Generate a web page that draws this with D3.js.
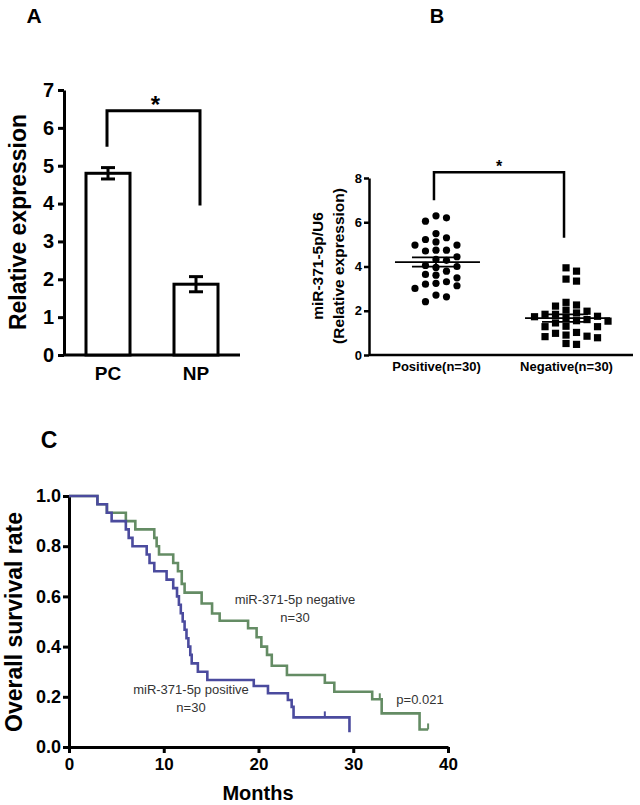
<!DOCTYPE html>
<html>
<head>
<meta charset="UTF-8">
<script src="https://d3js.org/d3.v7.min.js"></script>
<style>
  body { margin: 0; background: #fff; }
  text { font-family: "Liberation Sans", Arial, sans-serif; }
</style>
</head>
<body>
<svg id="fig" width="640" height="805"></svg>
<script>
// ---- panel A data ----
const aGroups = ["PC", "NP"];
const aMeans = [4.8, 1.87];
const aErr = [0.15, 0.2];
const aTicks = [0, 1, 2, 3, 4, 5, 6, 7];

// ---- panel B data ----
const bGroups = ["Positive(n=30)", "Negative(n=30)"];
const bPositive = [6.29, 6.2, 6.05, 5.49, 5.3, 5.22, 5.11, 4.97, 4.97, 4.74, 4.7, 4.74, 4.44, 4.32, 4.28,
                   4.0, 4.05, 3.96, 3.79, 3.64, 3.61, 3.49, 3.24, 3.13, 3.01, 3.2, 3.31, 2.71, 2.63, 2.41];
const bNegative = [3.94, 3.79, 3.43, 3.34, 2.38, 2.26, 2.21, 2.03, 1.98, 1.9, 1.84, 1.84, 1.75, 1.73, 1.68,
                   1.6, 1.55, 1.53, 1.45, 1.3, 1.28, 1.28, 1.02, 0.98, 0.9, 0.85, 0.83, 0.78, 0.52, 0.48];
const bMeans = [4.2, 1.67];
const bSem = [0.21, 0.17];
const bTicks = [0, 2, 4, 6, 8];

// ---- panel C data (Kaplan-Meier steps) ----
const posTimes = [0, 3, 4, 4.5, 6, 6.3, 6.7, 8.2, 8.5, 9, 10.3, 11, 11.4, 11.6, 11.8, 12.0, 12.2, 12.4, 12.6, 12.8, 12.95, 13.6, 14.6, 19.5, 21, 23.1, 23.5, 23.7, 29.6];
const posSurv  = [1, .967, .933, .9, .867, .833, .8, .767, .733, .7, .667, .633, .6, .567, .533, .5, .467, .433, .4, .367, .333, .3, .267, .243, .214, .187, .16, .118, .059];
const posCensor = [27.0];
const negTimes = [0, 3, 4, 6, 7, 9, 9.25, 9.5, 11, 11.5, 11.9, 12.2, 14, 15.1, 15.9, 18.9, 19.8, 20.3, 20.9, 21.4, 23, 27, 28, 32, 33, 37, 37.9];
const negSurv  = [1, .967, .933, .9, .867, .833, .8, .767, .733, .7, .65, .615, .572, .532, .503, .473, .437, .4, .367, .324, .287, .256, .22, .19, .134, .07, .07];
const negCensor = [32.8, 37.9];
const cXTicks = [0, 10, 20, 30, 40];
const cYTicks = [0, 0.2, 0.4, 0.6, 0.8, 1.0];

const svg = d3.select("#fig");
const blue = "#4b4b9e", green = "#648c64";

function letter(t, x, y, size) {
  svg.append("text").attr("x", x).attr("y", y).attr("text-anchor", "middle")
    .attr("font-size", size).attr("font-weight", "bold").text(t);
}
function styleAxis(g, w, fs) {
  g.select(".domain").attr("stroke", "#000").attr("stroke-width", w);
  g.selectAll(".tick line").attr("stroke", "#000").attr("stroke-width", w);
  g.selectAll(".tick text").attr("font-size", fs).attr("font-weight", "bold").attr("fill", "#000")
    .attr("font-family", "Liberation Sans, Arial, sans-serif");
}

// ================= PANEL A =================
letter("A", 34, 23, 21);
const aY = d3.scaleLinear().domain([0, 7]).range([355, 90]);
const aX = d3.scaleBand().domain(aGroups).range([64, 240]).paddingInner(0.5).paddingOuter(0.25);
const gA = svg.append("g");

const aLeft = gA.append("g").attr("transform", "translate(64,0)")
  .call(d3.axisLeft(aY).tickValues(aTicks).tickFormat(d3.format("d")).tickSize(6).tickSizeOuter(0).tickPadding(4));
styleAxis(aLeft, 3, 20);
const aBottom = gA.append("g").attr("transform", "translate(0,355)")
  .call(d3.axisBottom(aX).tickSize(0).tickPadding(12));
styleAxis(aBottom, 3, 19);
aBottom.select(".domain").attr("d", "M64,0H240");

gA.selectAll("rect.bar").data(aGroups).join("rect")
  .attr("x", d => aX(d)).attr("width", aX.bandwidth())
  .attr("y", (d, i) => aY(aMeans[i])).attr("height", (d, i) => aY(0) - aY(aMeans[i]))
  .attr("fill", "#fff").attr("stroke", "#000").attr("stroke-width", 3);

aGroups.forEach((g, i) => {
  const cx = aX(g) + aX.bandwidth() / 2;
  const hi = aY(aMeans[i] + aErr[i]), lo = aY(aMeans[i] - aErr[i]);
  gA.append("line").attr("x1", cx).attr("x2", cx).attr("y1", hi).attr("y2", lo).attr("stroke", "#000").attr("stroke-width", 3);
  [hi, lo].forEach(y => gA.append("line").attr("x1", cx - 7).attr("x2", cx + 7).attr("y1", y).attr("y2", y)
    .attr("stroke", "#000").attr("stroke-width", 3));
});

// significance bracket
const aC0 = aX("PC") + aX.bandwidth() / 2 - 1, aC1 = aX("NP") + aX.bandwidth() / 2 + 4;
gA.append("path").attr("fill", "none").attr("stroke", "#000").attr("stroke-width", 3)
  .attr("d", `M${aC0},${aY(5.5)}V${aY(6.45)}H${aC1}V${aY(3.95)}`);
gA.append("text").attr("x", (aC0 + aC1) / 2 + 2).attr("y", aY(6.45) + 2).attr("text-anchor", "middle")
  .attr("font-size", 24).attr("font-weight", "bold").text("*");

gA.append("text").attr("transform", "translate(26,222) rotate(-90)").attr("text-anchor", "middle")
  .attr("font-size", 23).attr("font-weight", "bold").text("Relative expression");

// ================= PANEL B =================
letter("B", 437, 23, 20);
const bY = d3.scaleLinear().domain([0, 8]).range([355, 178]);
const bX = d3.scalePoint().domain(bGroups).range([369, 633]).padding(0.515);
const gB = svg.append("g");

const bLeft = gB.append("g").attr("transform", "translate(369,0)")
  .call(d3.axisLeft(bY).tickValues(bTicks).tickFormat(d3.format("d")).tickSize(5).tickSizeOuter(0).tickPadding(2));
styleAxis(bLeft, 2.5, 13);
const bBottom = gB.append("g").attr("transform", "translate(0,355)")
  .call(d3.axisBottom(bX).tickSize(0).tickPadding(7));
styleAxis(bBottom, 2.5, 13);
bBottom.select(".domain").attr("d", "M369,0H633");

// simple beeswarm layout
function swarm(values, cx) {
  const placed = [];
  const sorted = values.slice().sort((a, b) => b - a);
  sorted.forEach(v => {
    const py = bY(v);
    for (const k of [0, 1, -1, 2, -2, 3, -3, 4, -4, 5, -5]) {
      if (!placed.some(p => p.k === k && Math.abs(p.py - py) < 7.5)) {
        placed.push({ k, py, x: cx + k * 10.5 });
        break;
      }
    }
  });
  return placed;
}
const posPts = swarm(bPositive, bX(bGroups[0]));
const negPts = swarm(bNegative, bX(bGroups[1]));
gB.selectAll("circle.pt").data(posPts).join("circle")
  .attr("cx", d => d.x).attr("cy", d => d.py).attr("r", 3.6).attr("fill", "#000");
gB.selectAll("rect.pt").data(negPts).join("rect")
  .attr("x", d => d.x - 3.6).attr("y", d => d.py - 3.6).attr("width", 7.2).attr("height", 7.2).attr("fill", "#000");

bGroups.forEach((g, i) => {
  const cx = bX(g);
  gB.append("line").attr("x1", cx - 41).attr("x2", cx + 44).attr("y1", bY(bMeans[i])).attr("y2", bY(bMeans[i]))
    .attr("stroke", "#000").attr("stroke-width", 1.8);
  const hi = bY(bMeans[i] + bSem[i]), lo = bY(bMeans[i] - bSem[i]);
  gB.append("line").attr("x1", cx).attr("x2", cx).attr("y1", hi).attr("y2", lo).attr("stroke", "#000").attr("stroke-width", 1.8);
  [hi, lo].forEach(y => gB.append("line").attr("x1", cx - 24).attr("x2", cx + 22).attr("y1", y).attr("y2", y)
    .attr("stroke", "#000").attr("stroke-width", 1.8));
});

const bC0 = bX(bGroups[0]) - 2, bC1 = bX(bGroups[1]) - 2;
gB.append("path").attr("fill", "none").attr("stroke", "#000").attr("stroke-width", 2.5)
  .attr("d", `M${bC0},${bY(7.0)}V${bY(8.26)}H${bC1}V${bY(5.3)}`);
gB.append("text").attr("x", (bC0 + bC1) / 2).attr("y", bY(8.26)).attr("text-anchor", "middle")
  .attr("font-size", 16).attr("font-weight", "bold").text("*");

const bLab = gB.append("text").attr("transform", "translate(0,266) rotate(-90)").attr("text-anchor", "middle")
  .attr("font-size", 15.5).attr("font-weight", "bold");
bLab.append("tspan").attr("x", 0).attr("y", 323).text("miR-371-5p/U6");
bLab.append("tspan").attr("x", 0).attr("y", 344).text("(Relative expression)");

// ================= PANEL C =================
letter("C", 49, 448, 23);
const cX = d3.scaleLinear().domain([0, 40]).range([69, 448]);
const cY = d3.scaleLinear().domain([0, 1]).range([747, 496]);
const gC = svg.append("g");

const cLeft = gC.append("g").attr("transform", "translate(69,0)")
  .call(d3.axisLeft(cY).tickValues(cYTicks).tickFormat(d3.format(".1f")).tickSize(6).tickSizeOuter(0).tickPadding(2));
styleAxis(cLeft, 3, 18);
const cBottom = gC.append("g").attr("transform", "translate(0,747)")
  .call(d3.axisBottom(cX).tickValues(cXTicks).tickSize(6).tickSizeOuter(0).tickPadding(5));
styleAxis(cBottom, 3, 17);

const km = d3.line().x(d => cX(d[0])).y(d => cY(d[1])).curve(d3.curveStepAfter);
function drawKM(times, surv, censor, color) {
  const pts = times.map((t, i) => [t, surv[i]]);
  gC.append("path").datum(pts).attr("d", km).attr("fill", "none")
    .attr("stroke", color).attr("stroke-width", 2.6);
  censor.forEach(t => {
    let s = surv[0];
    times.forEach((tt, i) => { if (tt <= t) s = surv[i]; });
    gC.append("line").attr("x1", cX(t)).attr("x2", cX(t)).attr("y1", cY(s)).attr("y2", cY(s) - 6)
      .attr("stroke", color).attr("stroke-width", 2);
  });
}
drawKM(negTimes, negSurv, negCensor, green);
drawKM(posTimes, posSurv, posCensor, blue);

function note(lines, x, y0) {
  lines.forEach((t, i) => gC.append("text").attr("x", x).attr("y", y0 + i * 17.5).attr("text-anchor", "middle")
    .attr("font-size", 13).attr("fill", "#333").text(t));
}
note(["miR-371-5p negative", "n=30"], 295, 604);
note(["miR-371-5p positive", "n=30"], 191, 694);
note(["p=0.021"], 420, 704);

gC.append("text").attr("transform", "translate(22,622) rotate(-90)").attr("text-anchor", "middle")
  .attr("font-size", 23).attr("font-weight", "bold").text("Overall survival rate");
gC.append("text").attr("x", 258).attr("y", 800).attr("text-anchor", "middle")
  .attr("font-size", 20).attr("font-weight", "bold").text("Months");
</script>
</body>
</html>
